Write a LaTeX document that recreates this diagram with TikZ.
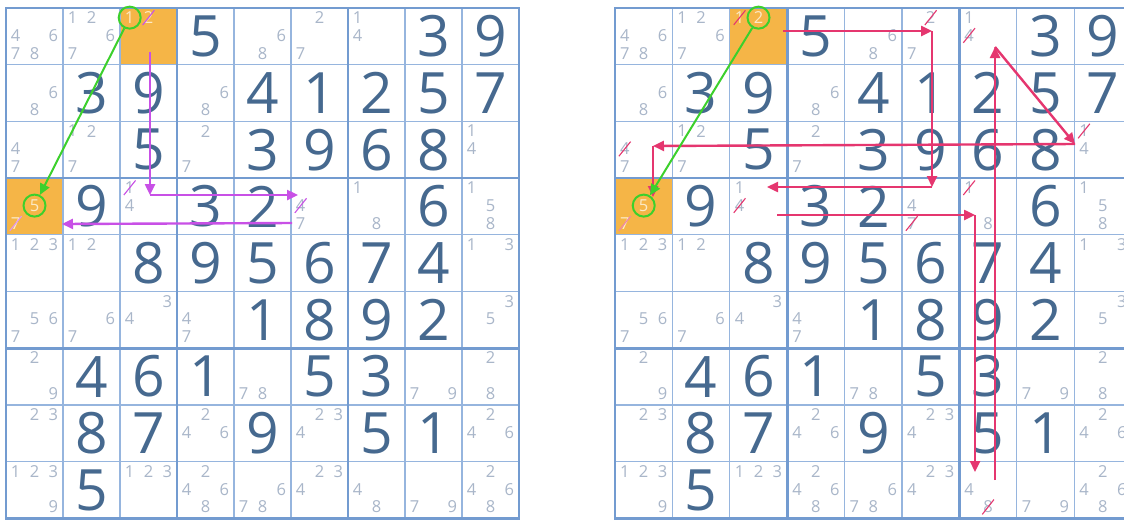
\documentclass[tikz,border=0pt]{standalone}
\usepackage{fontspec}
\setmainfont{Open Sans}
\usetikzlibrary{arrows.meta}

\definecolor{gridblue}{HTML}{96B5DE}
\definecolor{boxblue}{HTML}{739BD0}
\definecolor{givenblue}{HTML}{46698F}
\definecolor{candgray}{HTML}{A9B6C9}
\definecolor{cellorange}{HTML}{F5B547}
\definecolor{candcream}{HTML}{FCEAC6}
\definecolor{linkgreen}{HTML}{3CD02C}
\definecolor{chainpurple}{HTML}{C850E6}
\definecolor{chainpink}{HTML}{E5366F}

% grid contents, #1 = prefix of the node names
\newcommand{\sudokubody}[1]{%
  % given digits
  \foreach \r/\c/\v in {1/4/5, 1/8/3, 1/9/9,
      2/2/3, 2/3/9, 2/5/4, 2/6/1, 2/7/2, 2/8/5, 2/9/7,
      3/3/5, 3/5/3, 3/6/9, 3/7/6, 3/8/8,
      4/2/9, 4/4/3, 4/5/2, 4/8/6,
      5/3/8, 5/4/9, 5/5/5, 5/6/6, 5/7/7, 5/8/4,
      6/5/1, 6/6/8, 6/7/9, 6/8/2,
      7/2/4, 7/3/6, 7/4/1, 7/6/5, 7/7/3,
      8/2/8, 8/3/7, 8/5/9, 8/7/5, 8/8/1,
      9/2/5}
    \node[given] (#1-g-\r-\c) at (\c-0.5,\r-0.5) {\v};
  % pencil marks
  \foreach \r/\c/\ds/\st in {1/1/{4,6,7,8}/cand, 1/2/{1,2,6,7}/cand,
      1/3/{1,2}/candlight, 1/5/{6,8}/cand, 1/6/{2,7}/cand, 1/7/{1,4}/cand,
      2/1/{6,8}/cand, 2/4/{6,8}/cand,
      3/1/{4,7}/cand, 3/2/{1,2,7}/cand, 3/4/{2,7}/cand, 3/9/{1,4}/cand,
      4/1/{5,7}/candlight, 4/3/{1,4}/cand, 4/6/{4,7}/cand, 4/7/{1,8}/cand,
      4/9/{1,5,8}/cand,
      5/1/{1,2,3}/cand, 5/2/{1,2}/cand, 5/9/{1,3}/cand,
      6/1/{5,6,7}/cand, 6/2/{6,7}/cand, 6/3/{3,4}/cand, 6/4/{4,7}/cand,
      6/9/{3,5}/cand,
      7/1/{2,9}/cand, 7/5/{7,8}/cand, 7/8/{7,9}/cand, 7/9/{2,8}/cand,
      8/1/{2,3}/cand, 8/4/{2,4,6}/cand, 8/6/{2,3,4}/cand, 8/9/{2,4,6}/cand,
      9/1/{1,2,3,9}/cand, 9/3/{1,2,3}/cand, 9/4/{2,4,6,8}/cand,
      9/5/{6,7,8}/cand, 9/6/{2,3,4}/cand, 9/7/{4,8}/cand, 9/8/{7,9}/cand,
      9/9/{2,4,6,8}/cand} {
    \foreach \d in \ds {
      \pgfmathtruncatemacro{\subc}{mod(\d-1,3)}
      \pgfmathtruncatemacro{\subr}{(\d-1)/3}
      \node[\st] (#1-\r-\c-\d) at ({\c-0.83+0.33*\subc},{\r-0.83+0.315*\subr}) {\d};
    }
  }
}

% cells and lines of one grid
\newcommand{\sudokugrid}{%
  \fill[cellorange] (2,0) rectangle (3,1);
  \fill[cellorange] (0,3) rectangle (1,4);
  \foreach \i in {1,2,4,5,7,8} {
    \draw[thinline] (\i,0) -- (\i,9);
    \draw[thinline] (0,\i) -- (9,\i);
  }
  \foreach \i in {0,3,6,9} {
    \draw[boxline] (\i,0) -- (\i,9);
    \draw[boxline] (0,\i) -- (9,\i);
  }
}

\begin{document}
\begin{tikzpicture}[x=1pt, y=-1pt,
    thinline/.style={gridblue, line width=1.3pt},
    boxline/.style={boxblue, line width=2.6pt, line cap=rect},
    given/.style={givenblue, inner sep=0pt, font=\fontsize{57}{57}\selectfont},
    cand/.style={candgray, inner sep=0pt, font=\fontsize{16.5}{17}\selectfont},
    candlight/.style={cand, candcream},
    struck/.style={line width=1.1pt, shorten <=-1.5pt, shorten >=-1.5pt},
    ring/.style={draw=linkgreen, circle, line width=2pt, minimum size=22pt, inner sep=0pt},
    greenlink/.style={linkgreen, line width=2pt, -{Triangle[length=11pt, width=10pt]}},
    linkarrow/.style={line width=2.4pt, -{Triangle[length=11pt, width=10pt]}}]

    \useasboundingbox (0,0) rectangle (1124,520);
    \clip (0,0) rectangle (1124,520);
    \fill[white] (0,0) rectangle (1124,520);

    % --- 1. Left grid ---
    \begin{scope}[shift={(6,8)}, x=57pt, y=-56.7pt]
        \sudokugrid
        \sudokubody{L}
        \foreach \n in {L-1-3-2, L-4-3-1, L-4-6-4}
            \draw[struck, chainpurple] (\n.south west) -- (\n.north east);
        \draw[struck, chainpurple!60] (L-4-1-7.south west) -- (L-4-1-7.north east);
        \node[ring] (L-one) at (L-1-3-1) {};
        \node[ring] (L-five) at (L-4-1-5) {};
    \end{scope}

    % --- 2. Right grid ---
    \begin{scope}[shift={(615,8)}, x=57.4pt, y=-56.7pt]
        \sudokugrid
        \sudokubody{R}
        \foreach \n in {R-1-3-1, R-1-6-2, R-1-7-4, R-3-1-4, R-3-9-1,
                        R-4-3-4, R-4-6-7, R-4-7-1, R-9-7-8}
            \draw[struck, chainpink] (\n.south west) -- (\n.north east);
        \draw[struck, chainpink!60] (R-4-1-7.south west) -- (R-4-1-7.north east);
        \node[ring] (R-two) at (R-1-3-2) {};
        \node[ring] (R-five) at (R-4-1-5) {};
    \end{scope}

    % --- 3. Left chain (purple) ---
    \coordinate (la) at (150,52);   % below r1c3
    \coordinate (lb) at (150,195);  % r4c3
    \coordinate (lc) at (298,195);  % r4c6
    \coordinate (ld) at (292,223);
    \coordinate (le) at (62,224);   % r4c1

    \draw[linkarrow, chainpurple] (la) -- (lb);
    \draw[linkarrow, chainpurple] (lb) -- (lc);
    \draw[linkarrow, chainpurple] (ld) -- (le);
    \draw[greenlink] (L-one) -- (L-five);

    % --- 4. Right chain (pink) ---
    \coordinate (ra) at (783,31);   % r1c3
    \coordinate (rb) at (932,31);   % r1c6
    \coordinate (rc) at (932,187);  % r4c6
    \coordinate (rd) at (767,187);  % r4c3
    \coordinate (re) at (777,215);
    \coordinate (rf) at (975,215);  % r4c7
    \coordinate (rg) at (975,472);  % r9c7
    \coordinate (rh) at (995,480);
    \coordinate (ri) at (995,47);   % r1c7
    \coordinate (rj) at (1075,144); % r3c9
    \coordinate (rk) at (653,146);  % r3c1
    \coordinate (rl) at (653,197);  % r4c1

    \draw[linkarrow, chainpink] (ra) -- (rb);
    \draw[linkarrow, chainpink] (rb) -- (rc);
    \draw[linkarrow, chainpink] (rc) -- (rd);
    \draw[linkarrow, chainpink] (re) -- (rf);
    \draw[linkarrow, chainpink] (rf) -- (rg);
    \draw[linkarrow, chainpink] (rh) -- (ri);
    \draw[linkarrow, chainpink] (ri) -- (rj);
    \draw[linkarrow, chainpink] (rj) -- (rk);
    \draw[linkarrow, chainpink] (rk) -- (rl);
    \draw[greenlink] (R-two) -- (R-five);

\end{tikzpicture}
\end{document}
